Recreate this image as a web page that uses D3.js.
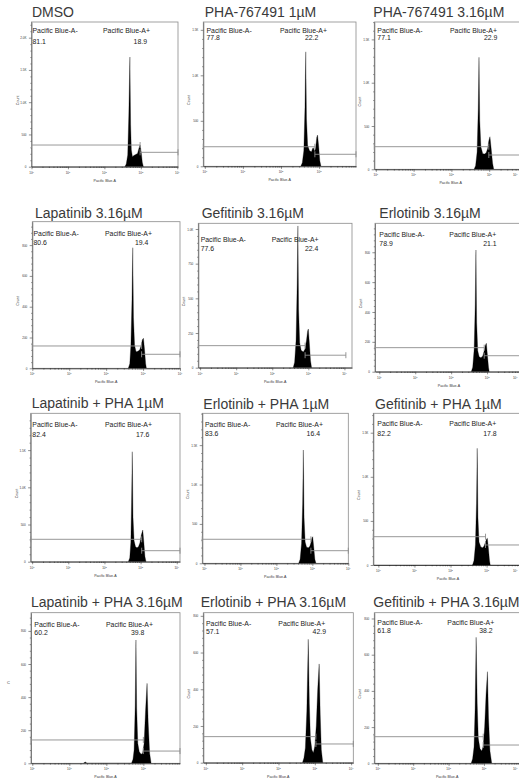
<!DOCTYPE html>
<html>
<head>
<meta charset="utf-8">
<script src="https://cdn.jsdelivr.net/npm/d3@7"></script>
<style>
  body { margin: 0; background: #fff; }
  svg { display: block; font-family: "Liberation Sans", Arial, sans-serif; }
</style>
</head>
<body>
<div id="chart"></div>
<script>
// Panel titles, left to right, top to bottom
var titles = ["DMSO", "PHA-767491 1µM", "PHA-767491 3.16µM",
  "Lapatinib 3.16µM", "Gefitinib 3.16µM", "Erlotinib 3.16µM",
  "Lapatinib + PHA 1µM", "Erlotinib + PHA 1µM", "Gefitinib + PHA 1µM",
  "Lapatinib + PHA 3.16µM", "Erlotinib + PHA 3.16µM", "Gefitinib + PHA 3.16µM"];

var negLabel = "Pacific Blue-A-", posLabel = "Pacific Blue-A+";
var xTitle = "Pacific Blue-A";
var yTitles = ["Count", "Count", "Count", "Count", "Count", "Count",
  "Count", "Count", "Count", "C", "Count", "Count"];
var negPct = ["81.1", "77.8", "77.1", "80.6", "77.6", "78.9", "82.4", "83.6", "82.2", "60.2", "57.1", "61.8"];
var posPct = ["18.9", "22.2", "22.9", "19.4", "22.4", "21.1", "17.6", "16.4", "17.8", "39.8", "42.9", "38.2"];

// x axis range in decades (log10 Pacific Blue-A)
var xMin = [0, -0.04, -0.04, 0, -0.05, -0.12, -0.04, -0.06, -0.14, -0.035, -0.07, -0.1];
var xMax = [4.02, 3.97, 4.0, 4.0, 4.21, 4.0, 4.09, 4.0, 4.0, 3.99, 4.06, 4.02];

// y axis top (count) and tick values
var yMax = [2243, 1586, 1701, 952, 1041, 994, 1995, 1904, 1720, 910, 817, 832];
var ticksK = [0, 500, 1000, 1500];
var yTicks = [[0, 500, 1000, 1500, 2000], ticksK, ticksK,
  [0, 200, 400, 600, 800], [0, 250, 500, 750, 1000], [0, 200, 400, 600, 800],
  ticksK, ticksK, ticksK,
  [0, 200, 400, 600, 800], [0, 200, 400, 600, 800], [0, 200, 400, 600, 800]];

// Bisector gate: split point (decades), bar levels (count), right end (decades)
var gateSplit = [2.98, 2.89, 2.99, 2.96, 2.91, 2.92, 3.03, 2.96, 2.97, 3.0, 3.03, 2.98];
var gateNeg = [336, 215, 261, 145, 159, 161, 301, 305, 321, 141, 142, 147];
var gatePos = [223, 132, 165, 91, 90, 107, 148, 160, 227, 74, 102, 101];
var gateEnd = [4.02, 3.97, 4.0, 4.0, 4.04, 4.0, 4.09, 4.0, 4.0, 3.99, 4.06, 4.02];

// Histograms: [log10 intensity, count]
var histDMSO = [[2.56,0],[2.60,40],[2.64,180],[2.67,800],[2.70,1700],[2.72,650],[2.74,260],[2.77,155],[2.81,175],[2.86,190],[2.91,205],[2.95,290],[2.98,336],[3.01,230],[3.04,70],[3.07,0]];
var histPHA1 = [[2.52,0],[2.56,40],[2.60,170],[2.63,650],[2.65,1258],[2.67,520],[2.70,230],[2.75,170],[2.80,160],[2.83,195],[2.85,204],[2.88,165],[2.91,200],[2.94,320],[2.96,344],[2.99,220],[3.02,60],[3.05,0]];
var histPHA316 = [[2.60,0],[2.64,40],[2.68,200],[2.71,700],[2.73,1293],[2.75,560],[2.78,260],[2.83,180],[2.88,177],[2.92,190],[2.96,240],[2.99,330],[3.02,376],[3.05,250],[3.09,70],[3.12,0]];
var histLap316 = [[2.60,0],[2.64,30],[2.67,150],[2.70,450],[2.72,783],[2.74,330],[2.77,150],[2.81,108],[2.86,110],[2.91,120],[2.95,150],[2.98,185],[3.01,195],[3.04,120],[3.07,30],[3.09,0]];
var histGef316 = [[2.58,0],[2.62,40],[2.66,200],[2.69,600],[2.71,1022],[2.73,420],[2.76,180],[2.80,125],[2.86,114],[2.91,135],[2.95,200],[2.98,265],[3.00,279],[3.03,170],[3.06,50],[3.09,0]];
var histErl316 = [[2.56,0],[2.60,30],[2.64,150],[2.67,450],[2.69,815],[2.71,330],[2.74,140],[2.78,100],[2.83,94],[2.88,105],[2.92,140],[2.95,175],[2.98,190],[3.01,110],[3.04,30],[3.06,0]];
var histLapPHA1 = [[2.66,0],[2.70,50],[2.73,260],[2.75,800],[2.77,1478],[2.79,600],[2.82,280],[2.86,200],[2.90,188],[2.94,200],[2.98,250],[3.02,360],[3.06,426],[3.09,260],[3.12,70],[3.15,0]];
var histErlPHA1 = [[2.62,0],[2.66,50],[2.70,250],[2.73,750],[2.75,1438],[2.77,580],[2.80,270],[2.84,205],[2.89,198],[2.93,215],[2.96,260],[2.99,325],[3.01,338],[3.04,200],[3.07,50],[3.10,0]];
var histGefPHA1 = [[2.61,0],[2.65,50],[2.69,230],[2.72,700],[2.74,1323],[2.76,540],[2.79,260],[2.84,205],[2.89,196],[2.93,215],[2.97,260],[3.00,295],[3.02,303],[3.05,190],[3.08,50],[3.10,0]];
var histLapPHA316 = [[1.38,0],[1.43,8],[1.48,0],[2.68,0],[2.72,25],[2.75,80],[2.78,350],[2.80,745],[2.82,330],[2.85,120],[2.89,70],[2.94,55],[2.98,60],[3.02,120],[3.06,320],[3.10,483],[3.13,250],[3.17,60],[3.21,0]];
var histErlPHA316 = [[2.66,0],[2.70,25],[2.74,80],[2.78,280],[2.82,672],[2.85,320],[2.88,130],[2.92,70],[2.96,54],[3.00,90],[3.04,200],[3.08,400],[3.12,538],[3.15,260],[3.18,70],[3.22,0]];
var histGefPHA316 = [[2.64,0],[2.68,25],[2.72,90],[2.75,300],[2.78,696],[2.81,330],[2.84,140],[2.89,80],[2.94,68],[2.98,95],[3.02,200],[3.06,380],[3.10,506],[3.13,250],[3.17,70],[3.22,0]];

var histograms = [histDMSO, histPHA1, histPHA316, histLap316, histGef316, histErl316,
  histLapPHA1, histErlPHA1, histGefPHA1, histLapPHA316, histErlPHA316, histGefPHA316];

// Panel placement (pixels)
var layout = [
  {l:31.5, t:22, r:178, b:166.7, tx:32, ty:17.3, ly1:33, ly2:43.5, negX:32.5, posX:103, pctR:147},
  {l:203.3, t:22, r:356, b:166.3, tx:204.7, ty:16.7, ly1:33, ly2:39.5, negX:206.5, posX:280, pctR:318.3},
  {l:374.3, t:22, r:527, b:169.3, tx:373.3, ty:16.7, ly1:33, ly2:39.8, negX:377.3, posX:450, pctR:497.3},
  {l:32.3, t:221.7, r:180, b:368.3, tx:35, ty:217.7, ly1:235.5, ly2:245, negX:33.5, posX:105, pctR:148.3},
  {l:198.3, t:223.3, r:352, b:367.7, tx:201.7, ty:217.5, ly1:241.5, ly2:251.3, negX:200.7, posX:271.7, pctR:318.3},
  {l:375, t:223.3, r:523, b:371.7, tx:379.3, ty:217.5, ly1:236.7, ly2:246, negX:379.3, posX:449.3, pctR:496.7},
  {l:30.7, t:413.3, r:180, b:561.7, tx:31.7, ty:408.3, ly1:426.7, ly2:436.7, negX:32.3, posX:105, pctR:149.3},
  {l:202.3, t:413.3, r:348.3, b:563.3, tx:203.3, ty:409.3, ly1:427, ly2:436, negX:205, posX:276, pctR:320},
  {l:373.3, t:413.3, r:522.7, b:565, tx:375, ty:409.3, ly1:426.3, ly2:435.7, negX:377.3, posX:449.3, pctR:496.7},
  {l:31, t:612.7, r:180, b:763.3, tx:31, ty:606.7, ly1:626.7, ly2:635.3, negX:34.3, posX:106, pctR:144.3, ytx:8.5, yty:684},
  {l:203.3, t:612.7, r:353.3, b:762.7, tx:200.7, ty:606.7, ly1:625.7, ly2:634, negX:206, posX:278.3, pctR:326},
  {l:374.3, t:612.7, r:520, b:763.3, tx:373.3, ty:606.7, ly1:625, ly2:633.3, negX:377.3, posX:447.3, pctR:492.7}
];

var W = 519, H = 779;
var svg = d3.select("#chart").append("svg")
    .attr("width", W)
    .attr("height", H);
svg.append("rect").attr("width", W).attr("height", H).attr("fill", "#fff");

function fmtCount(d) {
  return d >= 1000 ? (d / 1000).toFixed(1) + "K" : String(d);
}

function drawPanel(i) {
  var p = layout[i];
  var g = svg.append("g");

  var x = d3.scaleLog()
      .domain([Math.pow(10, xMin[i]), Math.pow(10, xMax[i])])
      .range([p.l, p.r]);
  var y = d3.scaleLinear()
      .domain([0, yMax[i]])
      .range([p.b, p.t]);

  // Title
  g.append("text")
      .attr("x", p.tx)
      .attr("y", p.ty)
      .style("font-size", "14px")
      .style("fill", "#3a3a3a")
      .text(titles[i]);

  // Frame
  g.append("rect")
      .attr("x", p.l).attr("y", p.t)
      .attr("width", p.r - p.l).attr("height", p.b - p.t)
      .attr("fill", "none")
      .attr("stroke", "#8a8a8a")
      .attr("stroke-width", 0.8);

  // Histogram
  var clipId = "clip" + i;
  g.append("clipPath").attr("id", clipId)
    .append("rect")
      .attr("x", p.l).attr("y", p.t)
      .attr("width", p.r - p.l).attr("height", p.b - p.t);

  g.append("path")
      .datum(histograms[i])
      .attr("clip-path", "url(#" + clipId + ")")
      .attr("fill", "#000")
      .attr("stroke", "#000")
      .attr("stroke-width", 0.3)
      .attr("d", d3.area()
        .x(function (d) { return x(Math.pow(10, d[0])); })
        .y0(y(0))
        .y1(function (d) { return y(d[1]); }));

  // X axis: minor log ticks, then decades
  var lo = x.domain()[0], hi = x.domain()[1];
  var allTicks = x.ticks().filter(function (d) { return d >= 1 && d <= hi; });
  var majors = [1, 10, 100, 1000, 10000].filter(function (d) { return d >= lo && d <= hi * 1.001; });
  var minors = allTicks.filter(function (d) { return majors.indexOf(d) < 0; });

  var xMinorAxis = g.append("g")
      .attr("transform", "translate(0," + p.b + ")")
      .call(d3.axisBottom(x).tickValues(minors).tickSize(1.3).tickSizeOuter(0).tickFormat(""));
  var xAxis = g.append("g")
      .attr("transform", "translate(0," + p.b + ")")
      .call(d3.axisBottom(x).tickValues(majors).tickSize(2.6).tickSizeOuter(0).tickFormat(""));
  xMinorAxis.select(".domain").remove();
  xAxis.select(".domain").attr("stroke", "#222").attr("stroke-width", 0.8);
  g.selectAll(".tick line").attr("stroke", "#222").attr("stroke-width", 0.5);

  // decade labels; the last one is kept inside the page when the panel runs off the edge
  var xl = g.selectAll(".xlab")
      .data(majors)
      .enter().append("text")
      .attr("class", "xlab")
      .attr("x", function (d) { return Math.min(x(d), W - 1.5); })
      .attr("y", p.b + 7)
      .attr("text-anchor", function (d) { return x(d) > W - 3 ? "end" : "middle"; })
      .style("font-size", "3px")
      .style("fill", "#333");
  xl.append("tspan").text("10");
  xl.append("tspan")
      .attr("dy", -1.2)
      .style("font-size", "2.2px")
      .text(function (d) { return Math.round(Math.log10(d)); });

  g.append("text")
      .attr("x", (p.l + Math.min(p.r, W)) / 2 + (p.r > W ? (p.r - W) / 2 : 0))
      .attr("y", p.b + 15)
      .attr("text-anchor", "middle")
      .style("font-size", "3.6px")
      .style("fill", "#333")
      .text(xTitle);

  // Y axis
  var step = yTicks[i][1] - yTicks[i][0];
  var yMinors = d3.range(0, yMax[i], step / 5).filter(function (d) { return yTicks[i].indexOf(d) < 0; });
  var yMinorAxis = g.append("g")
      .attr("transform", "translate(" + p.l + ",0)")
      .call(d3.axisLeft(y).tickValues(yMinors).tickSize(1.2).tickSizeOuter(0).tickFormat(""));
  yMinorAxis.select(".domain").remove();
  var yAxis = g.append("g")
      .attr("transform", "translate(" + p.l + ",0)")
      .call(d3.axisLeft(y).tickValues(yTicks[i]).tickSize(2.6).tickSizeOuter(0).tickFormat(fmtCount));
  yAxis.select(".domain").attr("stroke", "#555").attr("stroke-width", 0.7);
  yMinorAxis.selectAll(".tick line").attr("stroke", "#222").attr("stroke-width", 0.45);
  yAxis.selectAll(".tick line").attr("stroke", "#222").attr("stroke-width", 0.5);
  yAxis.selectAll(".tick text")
      .attr("x", -5)
      .attr("dy", "0.35em")
      .style("font-size", "3px")
      .style("font-family", "'Liberation Sans', Arial, sans-serif")
      .style("fill", "#333");

  var ytx = p.ytx !== undefined ? p.ytx : p.l - 13;
  var ymid = p.yty !== undefined ? p.yty : (p.t + p.b) / 2 + 6;
  if (yTitles[i] === "Count") {
    g.append("text")
        .attr("transform", "translate(" + ytx + "," + ymid + ") rotate(-90)")
        .attr("text-anchor", "middle")
        .style("font-size", "3.6px")
        .style("fill", "#333")
        .text(yTitles[i]);
  } else {
    g.append("text")
        .attr("x", ytx)
        .attr("y", ymid)
        .attr("text-anchor", "middle")
        .style("font-size", "4px")
        .style("fill", "#333")
        .text(yTitles[i]);
  }

  // Bisector gate
  var sx = x(Math.pow(10, gateSplit[i]));
  var x0 = p.l, x1 = x(Math.pow(10, gateEnd[i]));
  var gate = g.append("g")
      .attr("stroke", "#8c8c8c")
      .attr("stroke-width", 0.9)
      .attr("fill", "none");
  var segs = [[x0, sx, y(gateNeg[i])], [sx, x1, y(gatePos[i])]];
  segs.forEach(function (s) {
    gate.append("line").attr("x1", s[0]).attr("x2", s[1]).attr("y1", s[2]).attr("y2", s[2]);
    gate.append("line").attr("x1", s[0]).attr("x2", s[0]).attr("y1", s[2] - 3).attr("y2", s[2] + 3);
    gate.append("line").attr("x1", s[1]).attr("x2", s[1]).attr("y1", s[2] - 3).attr("y2", s[2] + 3);
  });

  // Gate labels
  var lab = g.append("g")
      .style("font-size", "6.9px")
      .style("fill", "#222");
  lab.append("text").attr("x", p.negX).attr("y", p.ly1).text(negLabel);
  lab.append("text").attr("x", p.negX).attr("y", p.ly2).text(negPct[i]);
  lab.append("text").attr("x", p.posX).attr("y", p.ly1).text(posLabel);
  lab.append("text").attr("x", p.pctR).attr("y", p.ly2)
      .attr("text-anchor", "end").text(posPct[i]);
}

for (var i = 0; i < titles.length; i++) {
  drawPanel(i);
}
</script>
</body>
</html>
